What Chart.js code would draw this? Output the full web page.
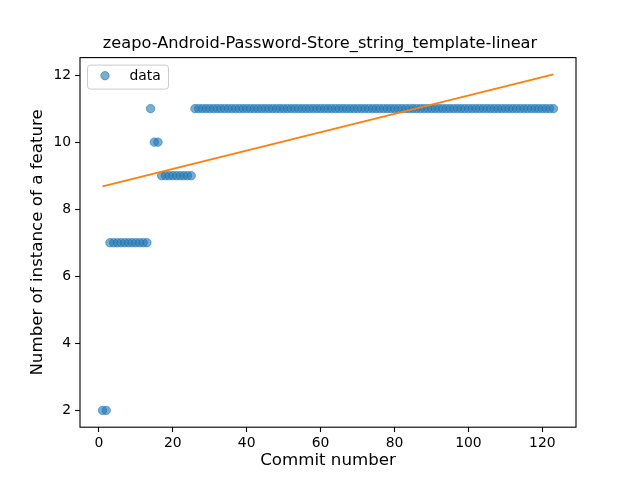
<!DOCTYPE html>
<html><head><meta charset="utf-8">
<script src="https://cdn.jsdelivr.net/npm/chart.js@4"></script>
<style>html,body{margin:0;padding:0;background:#fff}canvas{display:block}</style>
</head><body>
<canvas id="c" width="640" height="480"></canvas>
<script>
const commitNumbers = [1,2,3,4,5,6,7,8,9,10,11,12,13,14,15,16,17,18,19,20,21,22,23,24,25,26,27,28,29,30,31,32,33,34,35,36,37,38,39,40,41,42,43,44,45,46,47,48,49,50,51,52,53,54,55,56,57,58,59,60,61,62,63,64,65,66,67,68,69,70,71,72,73,74,75,76,77,78,79,80,81,82,83,84,85,86,87,88,89,90,91,92,93,94,95,96,97,98,99,100,101,102,103,104,105,106,107,108,109,110,111,112,113,114,115,116,117,118,119,120,121,122,123];
const featureCounts = [2,2,7,7,7,7,7,7,7,7,7,7,7,11,10,10,9,9,9,9,9,9,9,9,9,
  11,11,11,11,11,11,11,11,11,11,11,11,11,11,11,11,11,11,11,11,11,11,11,11,11,
  11,11,11,11,11,11,11,11,11,11,11,11,11,11,11,11,11,11,11,11,11,11,11,11,11,
  11,11,11,11,11,11,11,11,11,11,11,11,11,11,11,11,11,11,11,11,11,11,11,11,11,
  11,11,11,11,11,11,11,11,11,11,11,11,11,11,11,11,11,11,11,11,11,11,11];
const fitX = [1, 123];
const fitY = [8.68, 12.02];
const xTicks = [0,20,40,60,80,100,120];
const yTicks = [2,4,6,8,10,12];
const legendLabel = 'data';

const FONT = 'DejaVu Sans';
const frame = {
  id:'frame',
  afterDatasetsDraw(chart){
    const {ctx, chartArea:a} = chart;
    ctx.save();
    ctx.strokeStyle='#000'; ctx.lineWidth=1.1;
    ctx.strokeRect(a.left, a.top, a.right-a.left, a.bottom-a.top);
    // legend frame
    ctx.strokeStyle='#cccccc'; ctx.lineWidth=1;
    const x=a.left+7.5, y=a.top+7.5, w=81, h=24, r=3;
    ctx.beginPath();
    ctx.moveTo(x+r,y); ctx.lineTo(x+w-r,y); ctx.arcTo(x+w,y,x+w,y+r,r);
    ctx.lineTo(x+w,y+h-r); ctx.arcTo(x+w,y+h,x+w-r,y+h,r);
    ctx.lineTo(x+r,y+h); ctx.arcTo(x,y+h,x,y+h-r,r);
    ctx.lineTo(x,y+r); ctx.arcTo(x,y,x+r,y,r); ctx.closePath();
    ctx.fillStyle='rgba(255,255,255,0.8)'; ctx.fill(); ctx.stroke();
    // legend entry
    const ds = chart.data.datasets[0];
    ctx.beginPath();
    ctx.arc(a.left+25, a.top+18.1, 4.2, 0, Math.PI*2);
    ctx.fillStyle = ds.backgroundColor; ctx.fill();
    ctx.strokeStyle = ds.borderColor; ctx.lineWidth = 1; ctx.stroke();
    ctx.fillStyle='#000'; ctx.font = '13.9px "'+FONT+'"';
    ctx.textBaseline='alphabetic'; ctx.textAlign='left';
    ctx.fillText(legendLabel, a.left+49.5, a.top+22.4);
    ctx.restore();
  }
};
new Chart(document.getElementById('c'), {
  type:'scatter',
  data:{datasets:[
    {label:legendLabel, data: commitNumbers.map((x,i)=>({x, y:featureCounts[i]})),
     pointRadius:4.2, pointHoverRadius:4.2, backgroundColor:'rgba(31,119,180,0.6)',
     borderColor:'rgba(31,119,180,0.6)', borderWidth:1, order:2},
    {label:'fit', type:'line', data: fitX.map((x,i)=>({x, y:fitY[i]})),
     borderColor:'#ff7f0e', borderWidth:2, pointRadius:0, fill:false, order:1}
  ]},
  options:{
    responsive:false, animation:false,
    layout:{padding:{left:0,right:0,top:0,bottom:0}},
    plugins:{
      title:{display:true, text:'zeapo-Android-Password-Store_string_template-linear',
        color:'#000', font:{family:FONT,size:16.2,weight:'normal',lineHeight:1.2}, padding:{top:34.2,bottom:3.96}},
      legend:{display:false},
      tooltip:{enabled:false}
    },
    scales:{
      x:{type:'linear', min:-5.1, max:129.1,
        afterBuildTicks:(s)=>{s.ticks=xTicks.map(v=>({value:v}));},
        afterFit:(s)=>{s.height=52.8;},
        grid:{display:true, drawOnChartArea:false, drawTicks:true, tickLength:4.86, tickColor:'#000', tickWidth:1.1},
        border:{display:false},
        ticks:{color:'#000', font:{family:FONT,size:13.9}, padding:3, maxRotation:0},
        title:{display:true, text:'Commit number', color:'#000', font:{family:FONT,size:16.67}, padding:{top:0,bottom:9}}
      },
      y:{type:'linear', min:1.499, max:12.521,
        afterBuildTicks:(s)=>{s.ticks=yTicks.map(v=>({value:v}));},
        afterFit:(s)=>{s.width=80;},
        grid:{display:true, drawOnChartArea:false, drawTicks:true, tickLength:4.86, tickColor:'#000', tickWidth:1.1},
        border:{display:false},
        ticks:{color:'#000', font:{family:FONT,size:13.9}, padding:4},
        title:{display:true, text:'Number of instance of a feature', color:'#000', font:{family:FONT,size:16.67}, padding:{top:28,bottom:0}}
      },
      yR:{type:'linear', position:'right', display:true, min:0, max:1,
        afterFit:(s)=>{s.width=64;},
        grid:{display:false}, border:{display:false}, ticks:{display:false}, title:{display:false}}
    }
  },
  plugins:[frame]
});
</script>
</body></html>
